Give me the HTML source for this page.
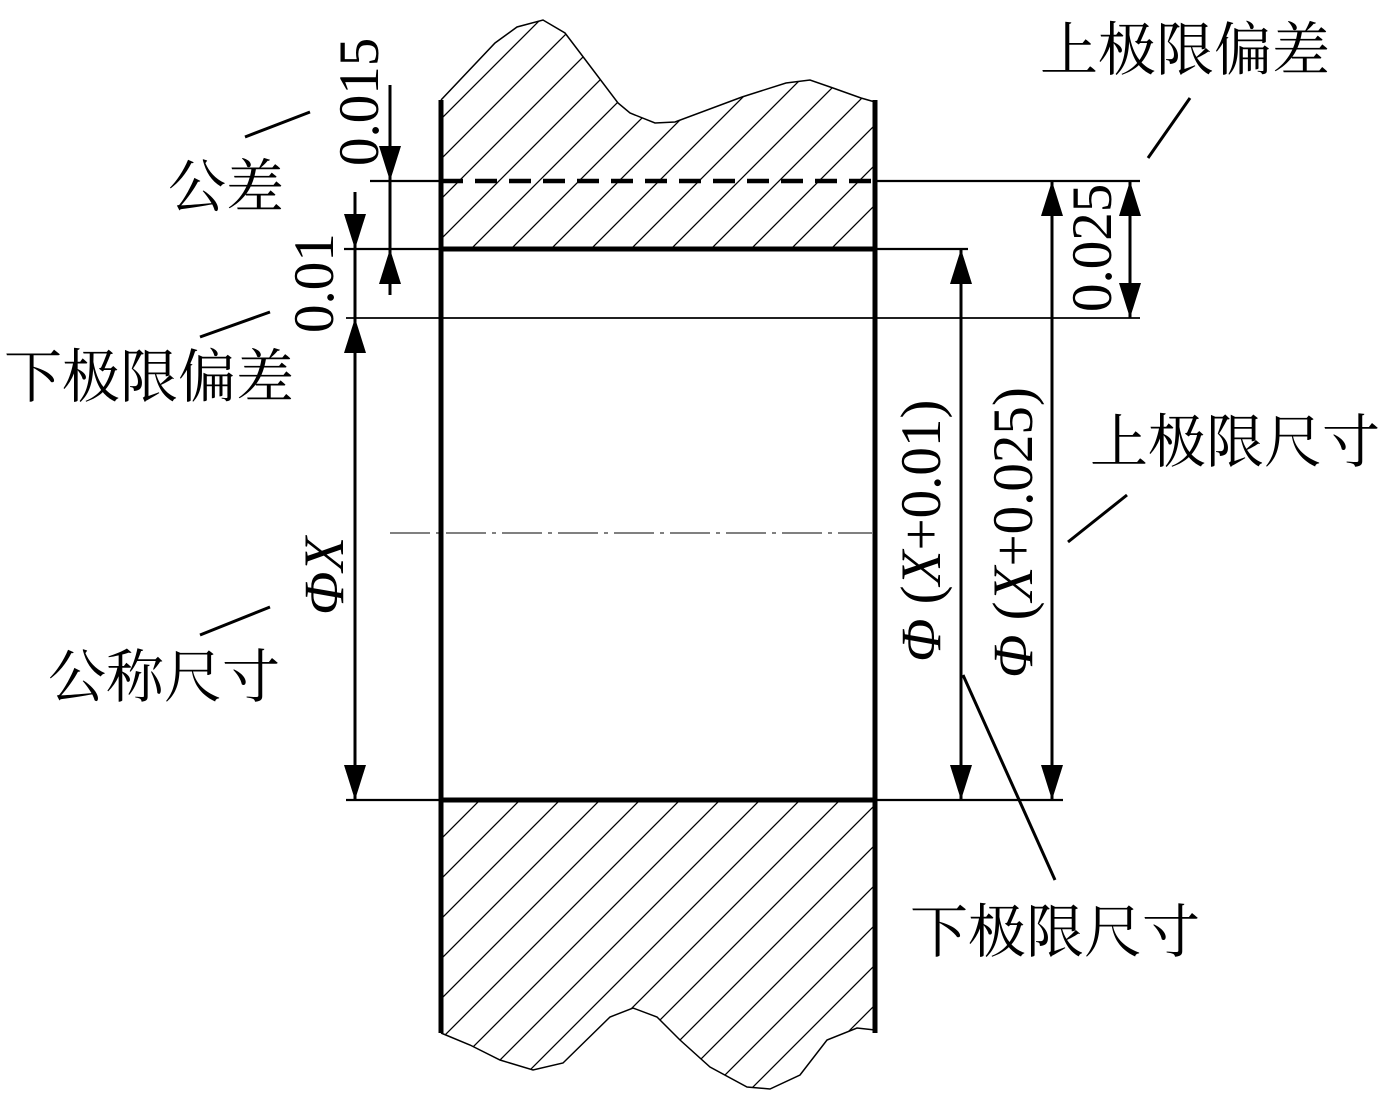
<!DOCTYPE html>
<html><head><meta charset="utf-8"><style>
html,body{margin:0;padding:0;background:#fff;}
svg{display:block;}
text{font-family:"Liberation Serif",serif;fill:#000;}
.cjk{font-family:"Liberation Serif","Noto Serif CJK SC",serif;font-size:58px;}
.num{font-family:"Liberation Serif",serif;font-size:57px;}
</style></head><body>
<svg width="1388" height="1104" viewBox="0 0 1388 1104" xmlns="http://www.w3.org/2000/svg">
<defs>
<pattern id="h" patternUnits="userSpaceOnUse" width="40" height="40">
<path d="M-10,50 L50,-10 M-30,30 L30,-30 M10,70 L70,10" stroke="#000" stroke-width="1.3"/>
</pattern>
</defs>
<path d="M441,100 L495,43 L517,27 L543,20 L565,33 L584,58 L618,103 L630,113 L655,123 L675,122 L742,97 L786,83 L810,80 L833,88 L861,98 L875,102 L875,249 L441,249 Z" fill="url(#h)" stroke="none"/>
<path d="M441,100 L495,43 L517,27 L543,20 L565,33 L584,58 L618,103 L630,113 L655,123 L675,122 L742,97 L786,83 L810,80 L833,88 L861,98 L875,102" fill="none" stroke="#000" stroke-width="1.5"/>
<path d="M441,800 L875,800 L875,1030 L857,1028 L827,1040 L800,1075 L770,1089 L747,1087 L710,1067 L680,1040 L657,1017 L633,1008 L610,1017 L563,1063 L533,1070 L500,1060 L470,1045 L441,1033 Z" fill="url(#h)" stroke="none"/>
<path d="M441,1033 L470,1045 L500,1060 L533,1070 L563,1063 L610,1017 L633,1008 L657,1017 L680,1040 L710,1067 L747,1087 L770,1089 L800,1075 L827,1040 L857,1028 L875,1030" fill="none" stroke="#000" stroke-width="1.5"/>
<line x1="441" y1="100" x2="441" y2="1033" stroke="#000" stroke-width="5"/>
<line x1="875" y1="100" x2="875" y2="1033" stroke="#000" stroke-width="5"/>
<line x1="441" y1="181" x2="875" y2="181" stroke="#000" stroke-width="4.5" stroke-dasharray="22,12"/>
<line x1="370" y1="181" x2="441" y2="181" stroke="#000" stroke-width="2.2"/>
<line x1="875" y1="181" x2="1140" y2="181" stroke="#000" stroke-width="2.2"/>
<line x1="441" y1="249" x2="875" y2="249" stroke="#000" stroke-width="5"/>
<line x1="344" y1="249" x2="441" y2="249" stroke="#000" stroke-width="2.2"/>
<line x1="875" y1="249" x2="968" y2="249" stroke="#000" stroke-width="2.2"/>
<line x1="346" y1="318" x2="1140" y2="318" stroke="#000" stroke-width="1.8"/>
<line x1="441" y1="800" x2="875" y2="800" stroke="#000" stroke-width="5"/>
<line x1="346" y1="800" x2="1063" y2="800" stroke="#000" stroke-width="2.2"/>
<line x1="390" y1="533" x2="872" y2="533" stroke="#000" stroke-width="1" stroke-dasharray="40,6,4,6"/>
<g stroke="#000" stroke-width="3">
<line x1="390" y1="85" x2="390" y2="295"/>
<line x1="355" y1="192" x2="355" y2="800"/>
<line x1="961" y1="249" x2="961" y2="800"/>
<line x1="1052" y1="181" x2="1052" y2="800"/>
<line x1="1130" y1="181" x2="1130" y2="318"/>
</g>
<g fill="#000">
<polygon points="390,181 379,146 401,146"/>
<polygon points="390,249 379,284 401,284"/>
<polygon points="355,249 344,214 366,214"/>
<polygon points="355,318 344,353 366,353"/>
<polygon points="355,800 344,765 366,765"/>
<polygon points="961,249 950,284 972,284"/>
<polygon points="961,800 950,765 972,765"/>
<polygon points="1052,181 1041,216 1063,216"/>
<polygon points="1052,800 1041,765 1063,765"/>
<polygon points="1130,181 1119,216 1141,216"/>
<polygon points="1130,318 1119,283 1141,283"/>
</g>
<g stroke="#000" stroke-width="3">
<line x1="245" y1="137" x2="310" y2="112"/>
<line x1="1148" y1="158" x2="1190" y2="98"/>
<line x1="200" y1="337" x2="270" y2="312"/>
<line x1="1068" y1="542" x2="1127" y2="495"/>
<line x1="200" y1="635" x2="270" y2="607"/>
<line x1="963" y1="675" x2="1055" y2="880"/>
</g>
<text class="num" transform="translate(378,166) rotate(-90)">0.015</text>
<text class="num" transform="translate(333,333) rotate(-90)">0.01</text>
<text class="num" transform="translate(343,615) rotate(-90)"><tspan font-style="italic">ΦX</tspan></text>
<text class="num" transform="translate(940,662) rotate(-90)"><tspan font-style="italic">Φ</tspan> (<tspan font-style="italic">X</tspan>+0.01)</text>
<text class="num" transform="translate(1032,678) rotate(-90)"><tspan font-style="italic">Φ</tspan> (<tspan font-style="italic">X</tspan>+0.025)</text>
<text class="num" transform="translate(1111,312) rotate(-90)">0.025</text>
<text class="cjk" x="1040" y="70">上极限偏差</text>
<text class="cjk" x="168" y="207">公差</text>
<text class="cjk" x="4" y="397">下极限偏差</text>
<text class="cjk" x="1090" y="462">上极限尺寸</text>
<text class="cjk" x="48" y="697">公称尺寸</text>
<text class="cjk" x="910" y="952">下极限尺寸</text>
</svg>
</body></html>
